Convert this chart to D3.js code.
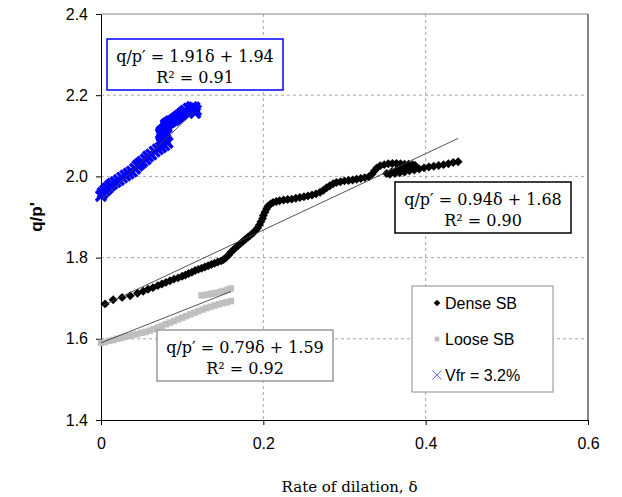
<!DOCTYPE html>
<html>
<head>
<meta charset="utf-8">
<script src="https://cdn.jsdelivr.net/npm/d3@7"></script>
<style>
    body { margin: 0; background: #fff; }
    svg { display: block; }
</style>
</head>
<body>
<div id="chart"></div>
<script>
// [rate of dilation, q/p']
const denseSB = [
    [0.005, 1.686], [0.015, 1.696], [0.026, 1.702], [0.036, 1.706], [0.045, 1.712],
    [0.052, 1.717], [0.058, 1.722], [0.064, 1.726], [0.070, 1.731], [0.075, 1.735],
    [0.080, 1.739], [0.085, 1.743], [0.090, 1.747], [0.095, 1.750], [0.100, 1.754],
    [0.104, 1.757], [0.108, 1.761], [0.112, 1.764], [0.116, 1.768], [0.120, 1.771],
    [0.124, 1.774], [0.128, 1.777], [0.132, 1.780], [0.136, 1.783], [0.140, 1.786],
    [0.144, 1.789], [0.148, 1.792], [0.151, 1.795], [0.154, 1.800], [0.157, 1.806],
    [0.160, 1.813], [0.163, 1.819], [0.166, 1.825], [0.169, 1.830], [0.172, 1.835],
    [0.175, 1.840], [0.178, 1.845], [0.181, 1.850], [0.184, 1.855], [0.187, 1.860],
    [0.190, 1.866], [0.193, 1.873], [0.195, 1.880], [0.197, 1.888], [0.199, 1.896],
    [0.200, 1.904], [0.202, 1.912], [0.204, 1.920], [0.206, 1.927], [0.209, 1.932],
    [0.212, 1.936], [0.216, 1.938], [0.220, 1.940], [0.225, 1.942], [0.230, 1.943],
    [0.235, 1.944], [0.240, 1.946], [0.245, 1.948], [0.250, 1.950], [0.255, 1.952],
    [0.260, 1.954], [0.265, 1.957], [0.270, 1.961], [0.274, 1.966], [0.278, 1.972],
    [0.282, 1.977], [0.286, 1.982], [0.290, 1.985], [0.295, 1.987], [0.300, 1.989],
    [0.305, 1.990], [0.310, 1.991], [0.315, 1.993], [0.320, 1.995], [0.325, 1.997],
    [0.330, 1.999], [0.334, 2.006], [0.337, 2.014], [0.340, 2.021], [0.344, 2.026],
    [0.349, 2.029], [0.354, 2.031], [0.359, 2.032], [0.364, 2.032], [0.369, 2.031],
    [0.374, 2.030], [0.379, 2.030], [0.384, 2.029], [0.387, 2.027], [0.382, 2.023],
    [0.376, 2.021], [0.370, 2.019], [0.364, 2.015], [0.358, 2.011], [0.352, 2.007],
    [0.356, 2.005], [0.362, 2.007], [0.368, 2.009], [0.374, 2.011], [0.380, 2.014],
    [0.386, 2.016], [0.392, 2.018], [0.398, 2.021], [0.404, 2.023], [0.410, 2.025],
    [0.416, 2.027], [0.422, 2.029], [0.428, 2.031], [0.434, 2.034], [0.440, 2.036]
];

const looseSB = [
    [0.000, 1.590], [0.005, 1.592], [0.010, 1.595], [0.015, 1.597], [0.020, 1.600],
    [0.025, 1.602], [0.030, 1.605], [0.035, 1.607], [0.040, 1.610], [0.045, 1.612],
    [0.050, 1.615], [0.055, 1.617], [0.060, 1.620], [0.065, 1.624], [0.070, 1.628],
    [0.075, 1.632], [0.080, 1.636], [0.085, 1.640], [0.090, 1.644], [0.095, 1.648],
    [0.100, 1.652], [0.105, 1.656], [0.110, 1.660], [0.115, 1.664], [0.120, 1.668],
    [0.125, 1.672], [0.130, 1.676], [0.135, 1.679], [0.140, 1.682], [0.145, 1.685],
    [0.150, 1.688], [0.155, 1.690], [0.160, 1.693],
    [0.124, 1.707], [0.128, 1.708], [0.132, 1.709], [0.136, 1.711], [0.140, 1.712],
    [0.144, 1.714], [0.148, 1.716], [0.152, 1.718], [0.156, 1.721], [0.160, 1.724]
];

const vfr32 = [
    [0.000, 1.952], [0.002, 1.959], [0.005, 1.965], [0.008, 1.971], [0.011, 1.977],
    [0.014, 1.982], [0.018, 1.986], [0.022, 1.991], [0.026, 1.997], [0.030, 2.002],
    [0.034, 2.007], [0.038, 2.012], [0.042, 2.019], [0.045, 2.026], [0.048, 2.031],
    [0.051, 2.036], [0.055, 2.042], [0.058, 2.049], [0.062, 2.054], [0.066, 2.061],
    [0.070, 2.067], [0.074, 2.072], [0.078, 2.077], [0.082, 2.083], [0.080, 2.087],
    [0.079, 2.091], [0.077, 2.095], [0.075, 2.099], [0.074, 2.103], [0.074, 2.107],
    [0.075, 2.111], [0.077, 2.114], [0.079, 2.118], [0.081, 2.121], [0.080, 2.125],
    [0.080, 2.128], [0.082, 2.131], [0.084, 2.133], [0.086, 2.136], [0.089, 2.138],
    [0.091, 2.141], [0.093, 2.144], [0.095, 2.147], [0.097, 2.150], [0.099, 2.153],
    [0.101, 2.157], [0.104, 2.162], [0.108, 2.167], [0.112, 2.171], [0.115, 2.170],
    [0.117, 2.163], [0.116, 2.156]
];

// Linear trend lines: slope, intercept, x range
const fits = [
    { slope: 1.91, intercept: 1.94, x0: 0, x1: 0.115, r2: '0.91', border: '#0000ff' },
    { slope: 0.94, intercept: 1.68, x0: 0, x1: 0.44, r2: '0.90', border: '#000000' },
    { slope: 0.79, intercept: 1.59, x0: 0, x1: 0.16, r2: '0.92', border: '#999999' }
];

const xTicks = [0, 0.2, 0.4, 0.6];
const yTicks = [1.4, 1.6, 1.8, 2.0, 2.2, 2.4];
const legendLabels = ['Dense SB', 'Loose SB', 'Vfr = 3.2%'];

const W = 622, H = 497;
const margin = { top: 14, right: 34, bottom: 77, left: 101 };
const width = W - margin.left - margin.right;
const height = H - margin.top - margin.bottom;

const svg = d3.select('#chart').append('svg')
    .attr('width', W)
    .attr('height', H);

const g = svg.append('g')
    .attr('transform', `translate(${margin.left},${margin.top})`);

const x = d3.scaleLinear().domain([0, 0.6]).range([0, width]);
const y = d3.scaleLinear().domain([1.4, 2.4]).range([height, 0]);

// Dashed grid
g.selectAll('.vgrid')
    .data(xTicks.filter(d => d > 0 && d < 0.6))
    .enter().append('line')
    .attr('x1', d => x(d)).attr('x2', d => x(d))
    .attr('y1', 0).attr('y2', height)
    .attr('stroke', '#a6a6a6').attr('stroke-dasharray', '3,3');

g.selectAll('.hgrid')
    .data(yTicks.filter(d => d > 1.4 && d < 2.4))
    .enter().append('line')
    .attr('x1', 0).attr('x2', width)
    .attr('y1', d => y(d)).attr('y2', d => y(d))
    .attr('stroke', '#a6a6a6').attr('stroke-dasharray', '3,3');

// Top and right frame
g.append('line').attr('x1', 0).attr('x2', width).attr('y1', 0).attr('y2', 0)
    .attr('stroke', '#868686').attr('stroke-width', 1.2);
g.append('line').attr('x1', width).attr('x2', width).attr('y1', 0).attr('y2', height)
    .attr('stroke', '#868686').attr('stroke-width', 2);

// Axes
const xAxis = d3.axisBottom(x).tickValues(xTicks).tickFormat(d => d === 0 ? '0' : d3.format('.1f')(d))
    .tickSizeOuter(0).tickSizeInner(5).tickPadding(13);
const yAxis = d3.axisLeft(y).tickValues(yTicks).tickFormat(d3.format('.1f'))
    .tickSizeOuter(0).tickSizeInner(5).tickPadding(8);

const gx = g.append('g').attr('transform', `translate(0,${height})`).call(xAxis);
const gy = g.append('g').call(yAxis);
[gx, gy].forEach(a => {
    a.selectAll('path, line').attr('stroke', '#000');
    a.selectAll('text').attr('font-family', 'Liberation Sans, Arial, sans-serif')
        .attr('font-size', 16).attr('fill', '#000');
});

// Markers
const diamond = d3.symbol(d3.symbolSquare, 40);
const square = d3.symbol(d3.symbolSquare, 42);
const cross = r => `M${-r},${-r}L${r},${r}M${-r},${r}L${r},${-r}`;

g.append('g').selectAll('path')
    .data(looseSB).enter().append('path')
    .attr('d', square)
    .attr('transform', d => `translate(${x(d[0])},${y(d[1])})`)
    .attr('fill', '#bfbfbf');

g.append('g').selectAll('path')
    .data(denseSB).enter().append('path')
    .attr('d', diamond)
    .attr('transform', d => `translate(${x(d[0])},${y(d[1])}) rotate(45)`)
    .attr('fill', '#000');

g.append('g').selectAll('path')
    .data(vfr32).enter().append('path')
    .attr('d', cross(5))
    .attr('transform', d => `translate(${x(d[0])},${y(d[1])})`)
    .attr('stroke', '#0000ff').attr('stroke-width', 3.5).attr('fill', 'none');

// Fit lines drawn over the markers
fits.forEach(f => {
    g.append('line')
        .attr('x1', x(f.x0)).attr('y1', y(f.slope * f.x0 + f.intercept))
        .attr('x2', x(f.x1)).attr('y2', y(f.slope * f.x1 + f.intercept))
        .attr('stroke', '#404040').attr('stroke-width', 0.9);
});

// Equation boxes
const eqBoxes = [
    { fit: fits[0], x: 107, y: 39 },
    { fit: fits[1], x: 395, y: 182 },
    { fit: fits[2], x: 157, y: 330 }
];
eqBoxes.forEach(b => {
    const bw = 176, bh = 51;
    svg.append('rect')
        .attr('x', b.x).attr('y', b.y).attr('width', bw).attr('height', bh)
        .attr('fill', '#fff').attr('stroke', b.fit.border).attr('stroke-width', 1.5);
    const t = svg.append('text')
        .attr('font-family', 'DejaVu Serif, serif')
        .attr('font-size', 16)
        .attr('text-anchor', 'middle')
        .attr('fill', '#000');
    t.append('tspan').attr('x', b.x + bw / 2).attr('y', b.y + 23)
        .text(`q/p\u2032 = ${b.fit.slope.toFixed(2)}\u03B4 + ${b.fit.intercept.toFixed(2)}`);
    t.append('tspan').attr('x', b.x + bw / 2).attr('y', b.y + 44)
        .text(`R\u00B2 = ${b.fit.r2}`);
});

// Legend
const lg = svg.append('g').attr('transform', 'translate(412,286)');
lg.append('rect').attr('width', 141).attr('height', 106)
    .attr('fill', '#fff').attr('stroke', '#8c8c8c').attr('stroke-width', 1);
const legendMarks = [
    sel => sel.append('path').attr('d', d3.symbol(d3.symbolSquare, 22))
        .attr('transform', 'rotate(45)').attr('fill', '#000'),
    sel => sel.append('path').attr('d', d3.symbol(d3.symbolSquare, 22)).attr('fill', '#bfbfbf'),
    sel => sel.append('path').attr('d', cross(4.5))
        .attr('stroke', '#6b6bff').attr('stroke-width', 1).attr('fill', 'none')
];
legendLabels.forEach((label, i) => {
    const row = lg.append('g').attr('transform', `translate(25,${17 + i * 36})`);
    legendMarks[i](row);
    row.append('text').attr('x', 8).attr('y', 6)
        .attr('font-family', 'Liberation Sans, Arial, sans-serif')
        .attr('font-size', 16).attr('fill', '#000')
        .text(label);
});

// Axis titles
svg.append('text')
    .attr('x', margin.left + width / 2 + 5).attr('y', 492)
    .attr('text-anchor', 'middle')
    .attr('font-family', 'DejaVu Serif, serif')
    .attr('font-size', 15)
    .text('Rate of dilation, \u03B4');

svg.append('text')
    .attr('transform', `translate(42,${margin.top + height / 2}) rotate(-90)`)
    .attr('text-anchor', 'middle')
    .attr('font-family', 'Liberation Sans, Arial, sans-serif')
    .attr('font-weight', 'bold')
    .attr('font-size', 17)
    .text("q/p'");
</script>
</body>
</html>
